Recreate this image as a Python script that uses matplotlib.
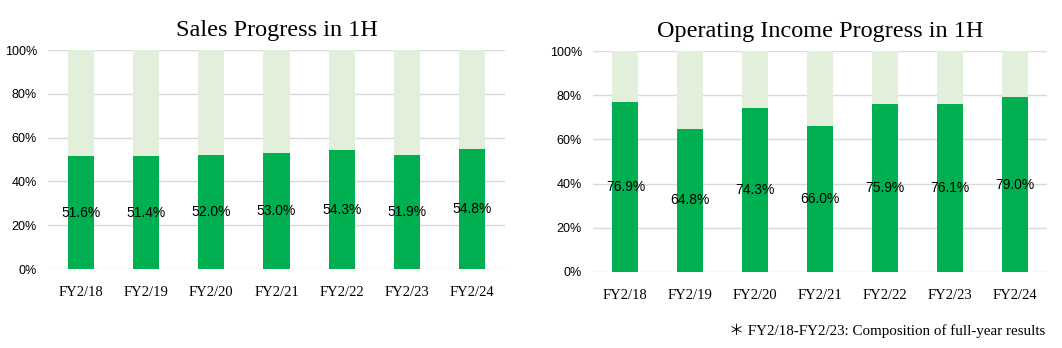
import numpy as np
import matplotlib.pyplot as plt

years = ["FY2/18", "FY2/19", "FY2/20", "FY2/21", "FY2/22", "FY2/23", "FY2/24"]
sales_1h = [51.6, 51.4, 52.0, 53.0, 54.3, 51.9, 54.8]
op_income_1h = [76.9, 64.8, 74.3, 66.0, 75.9, 76.1, 79.0]

dark_green = "#00B050"
light_green = "#E2EFDA"
grid_color = "#D9D9D9"

fig = plt.figure(figsize=(10.62, 3.48), dpi=100)

panels = [
    ("Sales Progress in 1H", sales_1h, [0.0452, 0.227, 0.4303, 0.629], 10),
    ("Operating Income Progress in 1H", op_income_1h, [0.5584, 0.2184, 0.4275, 0.635], 10),
]

for title, values, rect, tpad in panels:
    ax = fig.add_axes(rect)
    x = np.arange(len(years))
    vals = np.array(values)
    ax.bar(x, 100, width=0.4, color=light_green, zorder=2)
    ax.bar(x, vals, width=0.4, color=dark_green, zorder=3)
    for xi, v in zip(x, vals):
        ax.text(xi, v / 2, f"{v:.1f}%", ha="center", va="center",
                fontsize=10, family="Liberation Sans", color="black", zorder=4)
    ax.set_xlim(-0.5, len(years) - 0.5)
    ax.set_ylim(0, 100)
    ax.set_yticks(np.arange(0, 101, 20))
    ax.set_yticklabels([f"{t}%" for t in range(0, 101, 20)],
                       fontsize=9, family="Liberation Sans")
    ax.set_xticks(x)
    ax.set_xticklabels(years, fontsize=10.5, family="Liberation Serif")
    ax.yaxis.grid(True, color=grid_color, linewidth=1, zorder=0)
    ax.set_axisbelow(True)
    for s in ax.spines.values():
        s.set_visible(False)
    ax.tick_params(length=0)
    ax.tick_params(axis="x", pad=12)
    ax.tick_params(axis="y", pad=8)
    ax.set_title(title, fontsize=17.5, family="Liberation Serif", pad=tpad)

fig.text(0.984, 0.05, "＊ FY2/18-FY2/23: Composition of full-year results",
         ha="right", va="center", fontsize=10.8,
         family=["Liberation Serif", "Noto Sans CJK JP"])

plt.savefig("out.png", dpi=100)
